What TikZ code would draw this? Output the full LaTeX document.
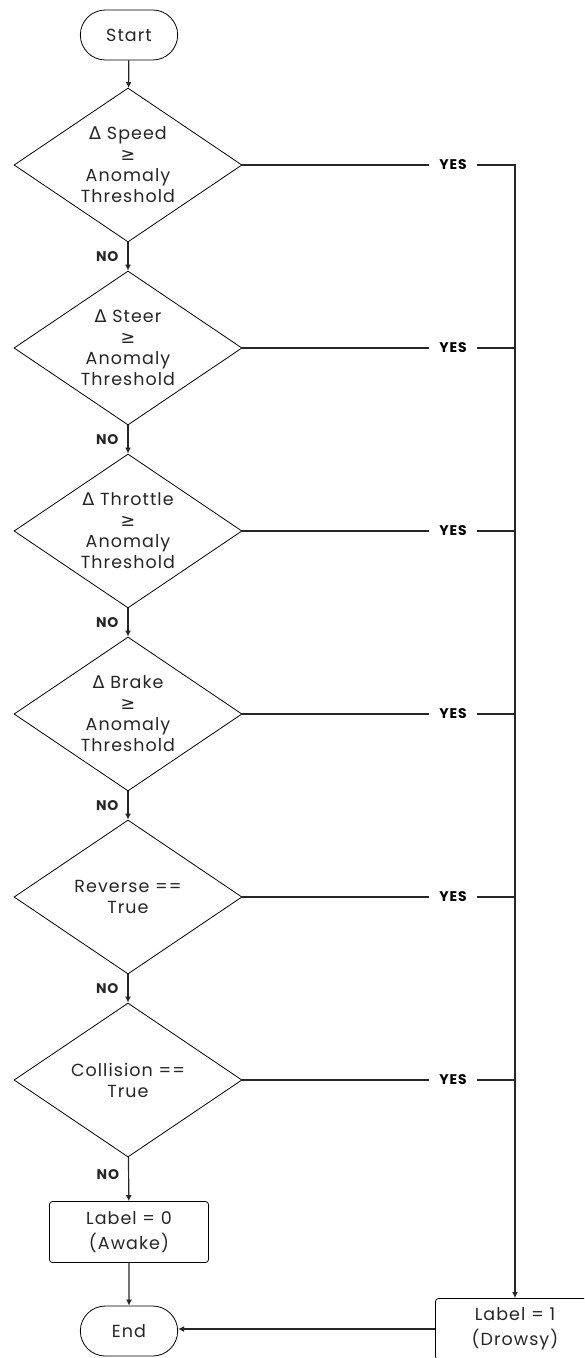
\documentclass[tikz,border=0pt]{standalone}
\usepackage{fontspec}
\setmainfont[LetterSpace=6]{Poppins}
\newfontfamily\symfont{DejaVu Sans}
\usetikzlibrary{shapes,arrows.meta,positioning,calc}

\tikzset{
  terminal/.style={draw, line width=0.8pt, rounded rectangle, minimum width=104pt, minimum height=50pt, text=black!85, font=\fontsize{17.5}{21}\selectfont},
  decision/.style={draw, line width=0.8pt, diamond, aspect=1.48, inner sep=0pt, minimum width=228pt, minimum height=154pt, align=center, text=black!85, font=\fontsize{17.5}{21}\selectfont},
  process/.style={draw, line width=0.8pt, rectangle, rounded corners=3pt, minimum width=159pt, minimum height=61pt, align=center, text=black!85, font=\fontsize{17.5}{25}\selectfont},
  nolab/.style={left=8pt, inner sep=1pt, font=\bfseries\fontsize{14}{14}\selectfont},
  yeslab/.style={inner xsep=10pt, inner ysep=2pt, font=\bfseries\fontsize{14}{14}\selectfont},
  conn/.style={line width=1.2pt, black!85},
  arr/.style={conn, -{Latex[length=6pt,width=6pt]}}
}

\begin{document}
\begin{tikzpicture}[x=1pt,y=-1pt]
  \useasboundingbox (0,0) rectangle (584,1358);
  \clip (0,0) rectangle (584,1358);

  % left column
  \node[terminal] (start) at (129,35) {Start};
  \node[decision] (speed) at (128,165) {{\symfont Δ} Speed\\{\symfont ≥}\\Anomaly\\Threshold};
  \node[decision] (steer) at (128,348) {{\symfont Δ} Steer\\{\symfont ≥}\\Anomaly\\Threshold};
  \node[decision] (throttle) at (128,531) {{\symfont Δ} Throttle\\{\symfont ≥}\\Anomaly\\Threshold};
  \node[decision] (brake) at (128,714) {{\symfont Δ} Brake\\{\symfont ≥}\\Anomaly\\Threshold};
  \node[decision] (reverse) at (128,897) {Reverse ==\\True};
  \node[decision] (collision) at (128,1080) {Collision ==\\True};
  \node[process] (awake) at (129,1232) {Label = 0\\(Awake)};
  \node[terminal] (end) at (129,1331) {End};

  % right column
  \node[process] (drowsy) at (515,1329) {Label = 1\\(Drowsy)};
  \node[yeslab] (yes1) at (453,165) {YES};
  \node[yeslab] (yes2) at (453,348) {YES};
  \node[yeslab] (yes3) at (453,531) {YES};
  \node[yeslab] (yes4) at (453,714) {YES};
  \node[yeslab] (yes5) at (453,897) {YES};
  \node[yeslab] (yes6) at (453,1080) {YES};

  % NO path
  \draw[arr] (start) -- (speed);
  \draw[arr] (speed) -- node[nolab] {NO} (steer);
  \draw[arr] (steer) -- node[nolab] {NO} (throttle);
  \draw[arr] (throttle) -- node[nolab] {NO} (brake);
  \draw[arr] (brake) -- node[nolab] {NO} (reverse);
  \draw[arr] (reverse) -- node[nolab] {NO} (collision);
  \draw[arr] (collision) -- node[nolab, pos=0.4] {NO} (awake);
  \draw[arr] (awake) -- (end);

  % YES path
  \draw[conn] (speed) -- (yes1);
  \draw[arr] (yes1) -| (drowsy);
  \draw[conn] (steer) -- (yes2);
  \draw[conn] (yes2) -- (yes2 -| drowsy);
  \draw[conn] (throttle) -- (yes3);
  \draw[conn] (yes3) -- (yes3 -| drowsy);
  \draw[conn] (brake) -- (yes4);
  \draw[conn] (yes4) -- (yes4 -| drowsy);
  \draw[conn] (reverse) -- (yes5);
  \draw[conn] (yes5) -- (yes5 -| drowsy);
  \draw[conn] (collision) -- (yes6);
  \draw[conn] (yes6) -- (yes6 -| drowsy);
  \draw[arr] (drowsy.west) -- (drowsy.west -| end.east);
\end{tikzpicture}
\end{document}
